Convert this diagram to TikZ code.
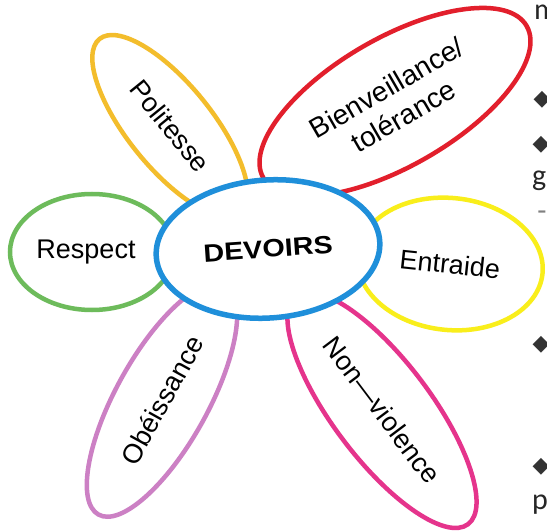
\documentclass[tikz,border=0pt]{standalone}
\usepackage{fontspec}
\setmainfont{Liberation Sans}
\newfontfamily\pagefont{Carlito}
\newfontfamily\symbfont{DejaVu Sans}
\usetikzlibrary{shapes.geometric}
\definecolor{devblue}{HTML}{1F8FDA}
\definecolor{politcol}{HTML}{F3BD2C}
\definecolor{respcol}{HTML}{6DBB5B}
\definecolor{bienvcol}{HTML}{E21F2C}
\definecolor{entrcol}{HTML}{F9EE1B}
\definecolor{violcol}{HTML}{E5348C}
\definecolor{obeicol}{HTML}{CC80C4}
\begin{document}
\begin{tikzpicture}[x=1pt,y=-1pt,
    petal/.style={ellipse,draw,line width=4.5pt,inner sep=0pt,align=center,
      font=\fontsize{27}{33}\selectfont},
    heart/.style={ellipse,draw=devblue,fill=white,line width=5.5pt,inner sep=0pt,
      font=\addfontfeatures{FakeStretch=1.15}\fontsize{25}{30}\selectfont\bfseries},
    pagetext/.style={font=\pagefont\fontsize{30}{34}\selectfont,text=black!85,inner sep=0pt},
    bullet/.style={font=\symbfont\fontsize{22}{24}\selectfont,text=black!80,inner sep=0pt}]
	\clip (0,0) rectangle (547,532);
	\fill[white] (0,0) rectangle (547,532);
		\node[petal,draw=politcol,minimum width=224pt,minimum height=84pt,rotate=-51] (politesse) at (170,126) {Politesse};
    		\node[petal,draw=respcol,minimum width=164pt,minimum height=116pt] (respect) at (92,252) {Respect\hspace{12pt}};
    		\node[petal,draw=bienvcol,minimum width=304pt,minimum height=128pt,rotate=30,font=\fontsize{28}{33}\selectfont] (bienveillance) at (395,102) {Bienveillance/\\tolérance};
    		\node[petal,draw=entrcol,minimum width=186pt,minimum height=132pt,rotate=-6] (entraide) at (450,264) {Entraide};
    		\node[petal,draw=violcol,minimum width=286pt,minimum height=98pt,rotate=-53] (nonviolence) at (382,410) {Non—violence};
    		\node[petal,draw=obeicol,minimum width=262pt,minimum height=92pt,rotate=61] (obeissance) at (162,400) {Obéissance};
		\node[heart,minimum width=224pt,minimum height=138pt,rotate=4] (devoirs) at (268,249) {DEVOIRS};
		\node[pagetext,anchor=base west] (pm) at (534,20) {m};
    		\node[bullet] (pb1) at (542,100) {◆};
    		\node[bullet] (pb2) at (541,145) {◆};
    		\node[pagetext,anchor=base west] (pg) at (532,186) {g};
    		\node[pagetext,text=black!50] (pdash) at (542,216) {-};
    		\node[bullet] (pb3) at (541,345) {◆};
    		\node[bullet] (pb4) at (541,467) {◆};
    		\node[pagetext,anchor=base west] (pp) at (532,509) {p};
	\end{tikzpicture}
\end{document}
